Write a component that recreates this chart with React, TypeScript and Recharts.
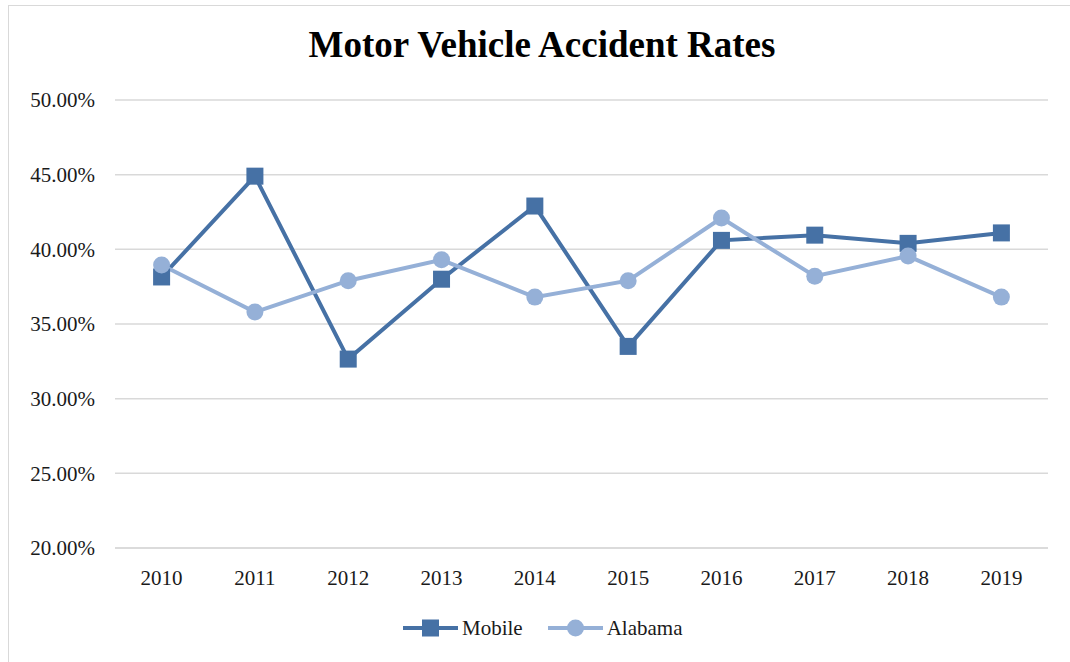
import React from "react";
import { CartesianGrid, Line, LineChart, XAxis, YAxis } from "recharts";

const years = ["2010", "2011", "2012", "2013", "2014", "2015", "2016", "2017", "2018", "2019"];
const mobile = [38.15, 44.9, 32.65, 38.0, 42.9, 33.5, 40.6, 40.95, 40.4, 41.1];
const alabama = [38.95, 35.8, 37.9, 39.3, 36.8, 37.9, 42.1, 38.2, 39.55, 36.8];
const yTicks = [20, 25, 30, 35, 40, 45, 50];

const data = years.map((year, i) => ({ year, mobile: mobile[i], alabama: alabama[i] }));

const FONT = "Liberation Serif, DejaVu Serif, serif";
const MOBILE_COLOR = "#4671a5";
const ALABAMA_COLOR = "#95b0d7";

const SquareDot = (props: any) => {
  const { cx, cy } = props;
  if (cx == null || cy == null) return null;
  return <rect x={cx - 8.5} y={cy - 8.5} width={17} height={17} fill={MOBILE_COLOR} />;
};

export default function App() {
  return (
    <div
      style={{
        position: "absolute",
        left: 0,
        top: 0,
        width: 1070,
        height: 662,
        background: "#fff",
        fontFamily: FONT,
        overflow: "hidden",
      }}
    >
      <div
        style={{
          position: "absolute",
          left: 8,
          top: 5,
          width: 1080,
          height: 680,
          border: "1.5px solid #d9d9d9",
          boxSizing: "border-box",
        }}
      />
      <div
        style={{
          position: "absolute",
          left: 0,
          width: 1084,
          top: 23,
          textAlign: "center",
          fontSize: 37,
          fontWeight: "bold",
          color: "#000",
          fontFamily: FONT,
        }}
      >
        Motor Vehicle Accident Rates
      </div>
      <div style={{ position: "absolute", left: 0, top: 0, fontFamily: FONT }}>
        <LineChart
          width={1070}
          height={662}
          data={data}
          margin={{ top: 100, right: 22, bottom: 84, left: 0 }}
          style={{ fontFamily: FONT }}
        >
          <CartesianGrid vertical={false} stroke="#d9d9d9" strokeWidth={1.5} />
          <XAxis
            dataKey="year"
            height={30}
            padding={{ left: 46.6, right: 46.6 }}
            axisLine={{ stroke: "#d9d9d9", strokeWidth: 1.5 }}
            tickLine={false}
            tickMargin={16}
            tick={{ fill: "#1a1a1a", fontSize: 21, fontFamily: FONT }}
          />
          <YAxis
            width={115}
            domain={[20, 50]}
            ticks={yTicks}
            interval={0}
            axisLine={false}
            tickLine={false}
            tickMargin={14}
            tickFormatter={(v: number) => `${v.toFixed(2)}%`}
            tick={{ fill: "#1a1a1a", fontSize: 21, fontFamily: FONT }}
          />
          <Line
            dataKey="mobile"
            stroke={MOBILE_COLOR}
            strokeWidth={4}
            dot={<SquareDot />}
            activeDot={false}
            isAnimationActive={false}
          />
          <Line
            dataKey="alabama"
            stroke={ALABAMA_COLOR}
            strokeWidth={4}
            dot={{ r: 8.5, fill: ALABAMA_COLOR, stroke: ALABAMA_COLOR, strokeWidth: 0 }}
            activeDot={false}
            isAnimationActive={false}
          />
        </LineChart>
      </div>
      <div
        style={{
          position: "absolute",
          top: 614,
          left: 403,
          display: "flex",
          alignItems: "center",
          fontSize: 21,
          color: "#1a1a1a",
          height: 28,
          fontFamily: FONT,
        }}
      >
        <svg width={55} height={20} style={{ marginRight: 4 }}>
          <line x1={0} y1={10} x2={55} y2={10} stroke={MOBILE_COLOR} strokeWidth={4} strokeLinecap="round" />
          <rect x={19} y={1.5} width={17} height={17} fill={MOBILE_COLOR} />
        </svg>
        <span style={{ marginRight: 25 }}>Mobile</span>
        <svg width={55} height={20} style={{ marginRight: 4 }}>
          <line x1={0} y1={10} x2={55} y2={10} stroke={ALABAMA_COLOR} strokeWidth={4} strokeLinecap="round" />
          <circle cx={27.5} cy={10} r={8.5} fill={ALABAMA_COLOR} />
        </svg>
        <span>Alabama</span>
      </div>
    </div>
  );
}
